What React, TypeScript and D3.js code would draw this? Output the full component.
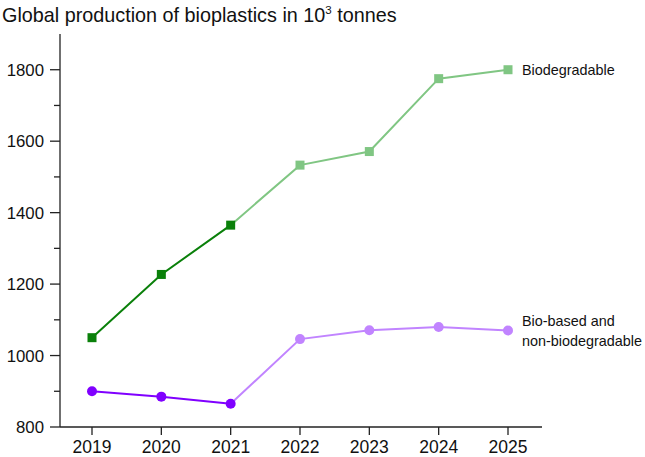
import React from "react";
import * as d3 from "d3";

const years = [2019, 2020, 2021, 2022, 2023, 2024, 2025];
const biodegradable = [1050, 1227, 1365, 1533, 1571, 1775, 1800];
const bioBased = [900, 885, 865, 1046, 1071, 1080, 1070];
const yTicks = [800, 1000, 1200, 1400, 1600, 1800];
const yMinorTicks = [900, 1100, 1300, 1500, 1700];
const splitIndex = 2; // actual data up to 2021, forecast afterwards

const W = 645;
const H = 457;
const FONT = "Liberation Sans, Arial, sans-serif";

export default function App() {
  const x = d3.scalePoint<number>().domain(years).range([92, 508]);
  const y = d3.scaleLinear().domain([800, 1900]).range([427, 34]);
  const axisLeft = 60;
  const axisRight = 542;

  const line = d3
    .line<number>()
    .x((_, i) => x(years[i]) as number)
    .y((d) => y(d));

  const series = [
    { values: biodegradable, dark: "#0a800a", light: "#80c683", shape: "square", label: ["Biodegradable"] },
    { values: bioBased, dark: "#8000ff", light: "#c184ff", shape: "circle", label: ["Bio-based and", "non-biodegradable"] },
  ];

  return (
    <div style={{ position: "absolute", left: 0, top: 0 }}>
      <svg width={W} height={H} style={{ display: "block", fontFamily: FONT }}>
        <rect width={W} height={H} fill="#fff" />
        <text x={2} y={22} fontSize={19.8} fill="#111">
          Global production of bioplastics in 10
          <tspan dy={-8} fontSize={11.5}>3</tspan>
          <tspan dy={8}> tonnes</tspan>
        </text>

        {/* axes */}
        <line x1={axisLeft} x2={axisLeft} y1={y(1900)} y2={y(800)} stroke="#222" strokeWidth={1.3} />
        <line x1={axisLeft} x2={axisRight} y1={y(800)} y2={y(800)} stroke="#222" strokeWidth={1.3} />
        {yTicks.map((t) => (
          <g key={t}>
            <line x1={axisLeft - 10} x2={axisLeft} y1={y(t)} y2={y(t)} stroke="#222" strokeWidth={1.3} />
            <text x={axisLeft - 16} y={y(t)} dy="0.36em" textAnchor="end" fontSize={16.8} fill="#111">
              {t}
            </text>
          </g>
        ))}
        {yMinorTicks.map((t) => (
          <line key={t} x1={axisLeft - 6} x2={axisLeft} y1={y(t)} y2={y(t)} stroke="#222" strokeWidth={1.3} />
        ))}
        {years.map((yr) => (
          <g key={yr}>
            <line x1={x(yr)} x2={x(yr)} y1={y(800)} y2={y(800) + 8} stroke="#222" strokeWidth={1.3} />
            <text x={x(yr)} y={y(800) + 26} textAnchor="middle" fontSize={17.5} fill="#111">
              {yr}
            </text>
          </g>
        ))}

        {series.map((s, si) => {
          const darkVals = s.values.slice(0, splitIndex + 1);
          const lightPath = d3
            .line<number>()
            .x((_, i) => x(years[i + splitIndex]) as number)
            .y((d) => y(d))(s.values.slice(splitIndex));
          return (
            <g key={si}>
              <path d={lightPath || ""} fill="none" stroke={s.light} strokeWidth={2} />
              <path d={line(darkVals) || ""} fill="none" stroke={s.dark} strokeWidth={2} />
              {s.values.map((v, i) => {
                const cx = x(years[i]) as number;
                const cy = y(v);
                const color = i <= splitIndex ? s.dark : s.light;
                return s.shape === "square" ? (
                  <rect key={i} x={cx - 4.5} y={cy - 4.5} width={9} height={9} fill={color} />
                ) : (
                  <circle key={i} cx={cx} cy={cy} r={5} fill={color} />
                );
              })}
              {s.label.map((l, li) => (
                <text
                  key={li}
                  x={522}
                  y={(si === 0 ? y(s.values[6]) + 5 : 326) + li * 20}
                  fontSize={14.4}
                  fill="#111"
                >
                  {l}
                </text>
              ))}
            </g>
          );
        })}
      </svg>
    </div>
  );
}
